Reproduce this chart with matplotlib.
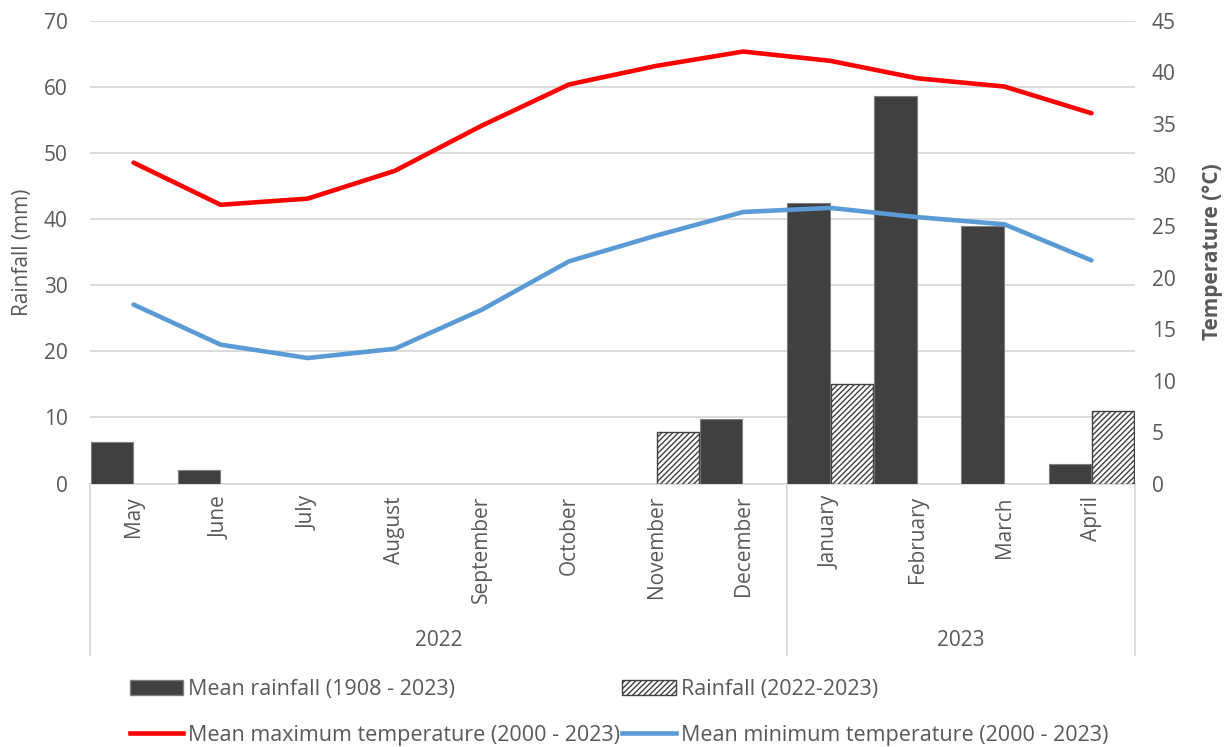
import matplotlib
matplotlib.use("Agg")
import matplotlib.pyplot as plt
import numpy as np
from matplotlib.patches import Patch
from matplotlib.lines import Line2D
import matplotlib.transforms as mtransforms

plt.rcParams['font.family'] = ['Open Sans', 'DejaVu Sans']
plt.rcParams['hatch.linewidth'] = 1.0

months = ["May", "June", "July", "August", "September", "October",
          "November", "December", "January", "February", "March", "April"]
years = ["2022", "2023"]
year_counts = [8, 4]

mean_rain = [6.3, 2.0, 0, 0, 0, 0, 0, 9.8, 42.4, 58.6, 39.0, 3.0]
rain_2022_23 = [0, 0, 0, 0, 0, 0, 7.8, 0, 15.0, 0, 0, 11.0]
tmax = [31.2, 27.1, 27.7, 30.4, 34.8, 38.8, 40.6, 42.0, 41.1, 39.4, 38.6, 36.0]
tmin = [17.4, 13.5, 12.2, 13.1, 16.9, 21.6, 24.1, 26.4, 26.8, 25.9, 25.2, 21.7]

label_color = '#595959'
grid_color = '#d9d9d9'
FS = 15

fig = plt.figure(figsize=(12.25, 7.47), dpi=100)
ax1 = fig.add_axes([90/1225, 1-483.5/747, (1135-90)/1225, (483.5-20.7)/747])
ax2 = ax1.twinx()

x = np.arange(len(months))
w = 0.485
mr = np.array(mean_rain, dtype=float)
rr = np.array(rain_2022_23, dtype=float)
mr[mr == 0] = np.nan
rr[rr == 0] = np.nan
ax1.bar(x - 0.25, mr, width=w, color='#404040', edgecolor='#7f7f7f', linewidth=0.8, zorder=3)
ax1.bar(x + 0.25, rr, width=w, color='white', edgecolor='#404040', hatch='//////', linewidth=1.0, zorder=3)

ax2.plot(x, tmax, color='#ff0000', lw=3.3, solid_capstyle='round', solid_joinstyle='round')
ax2.plot(x, tmin, color='#5b9bd5', lw=3.3, solid_capstyle='round', solid_joinstyle='round')

ax1.set_xlim(-0.5, len(months) - 0.5)
ax1.set_ylim(0, 70)
ax1.set_yticks(np.arange(0, 71, 10))
ax2.set_ylim(0, 45)
ax2.set_yticks(np.arange(0, 46, 5))

ax1.yaxis.grid(True, color=grid_color, lw=1.3, zorder=0)
ax1.set_axisbelow(True)
for ax in (ax1, ax2):
    for s in ax.spines.values():
        s.set_visible(False)
ax1.spines['bottom'].set_visible(True)
ax1.spines['bottom'].set_color(grid_color)
ax1.spines['bottom'].set_linewidth(1.3)

ax1.tick_params(axis='y', length=0, labelsize=FS, labelcolor=label_color, pad=16)
ax2.tick_params(axis='y', length=0, labelsize=FS, labelcolor=label_color, pad=12)
ax1.set_xticks(x)
ax1.set_xticklabels(months, rotation=90, va='top', ha='center')
ax1.tick_params(axis='x', length=0, labelsize=FS, labelcolor=label_color, pad=9)

ax1.set_ylabel("Rainfall (mm)", fontsize=FS, color=label_color)
ax1.yaxis.set_label_coords(-0.055, 0.5)
ax2.set_ylabel("Temperature (°C)", fontsize=FS, color=label_color, fontweight='bold', rotation=90)
ax2.yaxis.set_label_coords(1.064, 0.5)

# multi-level category axis
trans = mtransforms.blended_transform_factory(ax1.transData, ax1.transAxes)
yb = -(655 - 483.5) / (483.5 - 20.7)
bounds = np.concatenate([[0], np.cumsum(year_counts)]) - 0.5
for b in bounds:
    ax1.plot([b, b], [0, yb], transform=trans, color=grid_color, lw=1.3, clip_on=False)
for i, yr in enumerate(years):
    ax1.text((bounds[i] + bounds[i+1]) / 2, -(640 - 483.5) / (483.5 - 20.7), yr,
             transform=trans, ha='center', va='center', fontsize=FS, color=label_color)

handles = [
    Patch(facecolor='#404040', edgecolor='#7f7f7f', label='Mean rainfall (1908 - 2023)'),
    Line2D([0], [0], color='#ff0000', lw=3.3, label='Mean maximum temperature (2000 - 2023)'),
    Patch(facecolor='white', edgecolor='#404040', hatch='//////', label='Rainfall (2022-2023)'),
    Line2D([0], [0], color='#5b9bd5', lw=3.3, label='Mean minimum temperature (2000 - 2023)'),
]
LFS = 15.5
leg = fig.legend(handles=handles, ncol=2, loc='upper left', bbox_to_anchor=(130/1225, 1 - 679/747),
                 frameon=False, fontsize=LFS, handlelength=2.47, handleheight=0.7, handletextpad=0.24,
                 columnspacing=0.1, labelspacing=1.15, borderpad=0, borderaxespad=0)
for t in leg.get_texts():
    t.set_color(label_color)

fig.savefig("out.png", dpi=100)
